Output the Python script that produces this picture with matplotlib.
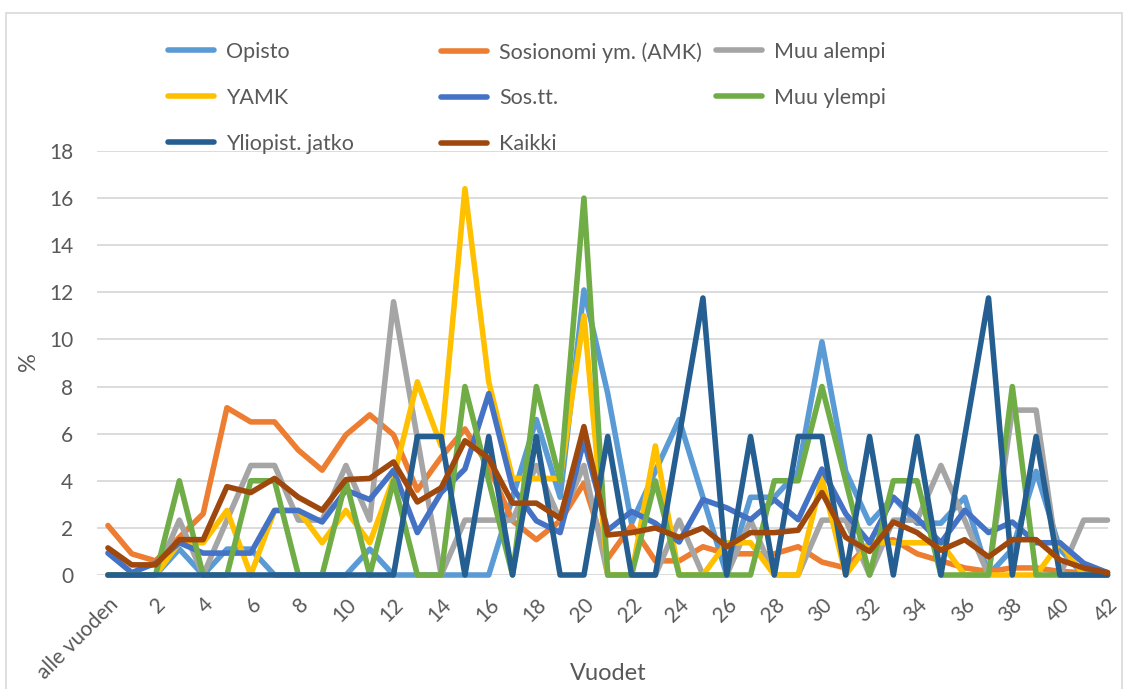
import matplotlib.pyplot as plt
import matplotlib.patches as patches

plt.rcParams['font.family'] = ['Lato', 'DejaVu Sans']

# Työvuodet: alle vuoden, 1 ... 42
years = ['alle vuoden'] + [str(i) for i in range(1, 43)]
tick_labels = ['alle vuoden'] + [str(i) for i in range(2, 43, 2)]

opisto = [0, 0, 0, 1.1, 0, 1.1, 1.1, 0, 0, 0, 0, 1.1, 0, 0, 0, 0, 0, 3.3, 6.6, 3.3,
          12.1, 7.7, 2.2, 4.4, 6.6, 3.3, 0, 3.3, 3.3, 4.4, 9.9, 4.4, 2.2, 3.3, 2.2, 2.2,
          3.3, 0, 1.1, 4.4, 1.1, 0, 0]
sosionomi = [2.1, 0.9, 0.6, 1.6, 2.6, 7.1, 6.5, 6.5, 5.3, 4.45, 5.95, 6.8, 5.95, 3.6, 5.0,
             6.2, 4.6, 2.3, 1.5, 2.3, 3.9, 0.7, 2.1, 0.6, 0.6, 1.2, 0.9, 0.9, 0.9, 1.2, 0.55,
             0.3, 1.35, 1.5, 0.9, 0.6, 0.3, 0.15, 0.3, 0.3, 0.15, 0.1, 0.1]
muu_alempi = [0, 0, 0, 2.33, 0, 2.33, 4.65, 4.65, 2.33, 2.33, 4.65, 2.33, 11.6, 5.8, 0, 2.33,
              2.33, 2.33, 4.65, 2.33, 4.65, 0, 0, 0, 2.33, 0, 0, 2.33, 0, 0, 2.33, 2.33, 0,
              2.33, 2.33, 4.65, 2.33, 0, 7.0, 7.0, 0, 2.33, 2.33]
yamk = [0, 0, 0, 1.37, 1.37, 2.74, 0, 2.74, 2.74, 1.37, 2.74, 1.37, 4.1, 8.2, 5.48, 16.4,
        8.2, 4.1, 4.1, 4.1, 11.0, 0, 0, 5.48, 0, 0, 1.37, 1.37, 0, 0, 4.1, 0, 1.37, 1.37,
        1.37, 1.37, 0, 0, 0, 0, 1.37, 0, 0]
sostt = [0.93, 0.1, 0.5, 1.37, 0.93, 0.93, 0.93, 2.74, 2.74, 2.25, 3.6, 3.2, 4.45, 1.8, 3.5,
         4.5, 7.7, 3.7, 2.3, 1.8, 5.7, 1.9, 2.7, 2.2, 1.4, 3.2, 2.85, 2.35, 3.2, 2.35, 4.5,
         2.6, 1.37, 3.3, 2.4, 1.37, 2.75, 1.8, 2.25, 1.37, 1.37, 0.5, 0.1]
muu_ylempi = [0, 0, 0, 4, 0, 0, 4, 4, 0, 0, 4, 0, 4, 0, 0, 8, 4, 0, 8, 4, 16, 0, 0, 4, 0, 0,
              0, 0, 4, 4, 8, 4, 0, 4, 4, 0, 0, 0, 8, 0, 0, 0, 0]
yliopist = [0] * 13 + [5.88, 5.88, 0, 5.88, 0, 5.88, 0, 0, 5.88, 0, 0, 5.88, 11.76, 0, 5.88,
                      0, 5.88, 5.88, 0, 5.88, 0, 5.88, 0, 5.88, 11.76, 0, 5.88, 0, 0, 0]
kaikki = [1.15, 0.43, 0.43, 1.5, 1.5, 3.75, 3.5, 4.1, 3.3, 2.75, 4.05, 4.1, 4.8, 3.1, 3.7,
          5.7, 4.95, 3.05, 3.05, 2.4, 6.3, 1.7, 1.8, 2.0, 1.6, 2.0, 1.2, 1.8, 1.8, 1.9, 3.5,
          1.6, 1.0, 2.25, 1.8, 1.05, 1.5, 0.77, 1.5, 1.5, 0.64, 0.3, 0.1]

series = [
    ('Opisto', opisto, '#5B9BD5'),
    ('Sosionomi ym. (AMK)', sosionomi, '#ED7D31'),
    ('Muu alempi', muu_alempi, '#A5A5A5'),
    ('YAMK', yamk, '#FFC000'),
    ('Sos.tt.', sostt, '#4472C4'),
    ('Muu ylempi', muu_ylempi, '#70AD47'),
    ('Yliopist. jatko', yliopist, '#255E91'),
    ('Kaikki', kaikki, '#9E480E'),
]

text_color = '#595959'

fig = plt.figure(figsize=(11.28, 6.89), dpi=100)
W, H = 1128, 689

# chart border
fig.patches.append(patches.Rectangle((6 / W, -0.1), 1116 / W, 1.1 - 13 / H,
                                     transform=fig.transFigure, fill=False,
                                     edgecolor='#D9D9D9', linewidth=1.2))

ax = fig.add_axes([97 / W, 1 - 575 / H, (1108 - 97) / W, (575 - 151) / H])

x = list(range(len(years)))
handles = []
for name, values, color in series:
    line, = ax.plot(x, values, color=color, linewidth=4.0, label=name,
                    solid_joinstyle='round', solid_capstyle='round', clip_on=False)
    handles.append(line)

ax.set_xlim(-0.46, 42.02)
ax.set_ylim(0, 18)
ax.set_yticks(range(0, 19, 2))
ax.grid(axis='y', color='#D9D9D9', linewidth=1.3)
ax.set_axisbelow(True)
for s in ax.spines.values():
    s.set_visible(False)
ax.tick_params(length=0, labelsize=15, labelcolor=text_color)
ax.tick_params(axis='y', pad=17)

ax.set_xticks(range(0, 43, 2))
ax.set_xticklabels(tick_labels, rotation=45, ha='right', va='top',
                   rotation_mode='anchor')
ax.tick_params(axis='x', pad=14)

# axis titles
fig.text(608 / W, 1 - 674 / H, 'Vuodet', ha='center', va='center',
         fontsize=17, color=text_color)
fig.text(28 / W, 1 - 362 / H, '%', ha='center', va='center', rotation=90,
         fontsize=17, color=text_color)

# legend in three fixed columns, filled row by row
col_x = [168, 441, 716]
for c in range(3):
    hs = handles[c::3]
    fig.legend(handles=hs, loc='upper left',
               bbox_to_anchor=(col_x[c] / W, 1 - 42 / H),
               frameon=False, fontsize=15.5, handlelength=2.15,
               handletextpad=0.55, labelspacing=1.2, borderpad=0,
               borderaxespad=0, labelcolor=text_color)

fig.savefig('out.png', dpi=100)
